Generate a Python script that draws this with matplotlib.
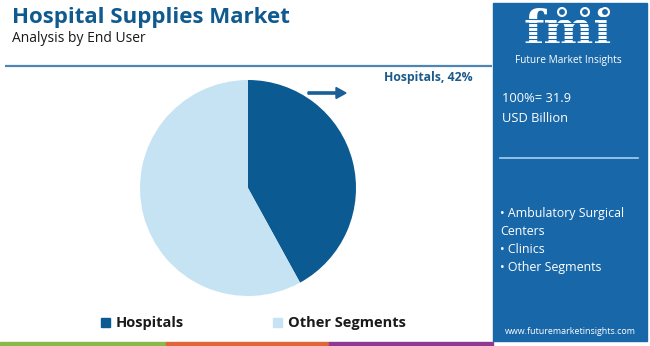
import matplotlib
matplotlib.use('Agg')
import matplotlib.pyplot as plt
from matplotlib.patches import Rectangle, Circle, FancyArrow

# data
segments = ['Hospitals', 'Other Segments']
shares = [42, 58]
seg_colors = ['#0b5a92', '#c6e3f3']
total_label = ['100%= 31.9', 'USD Billion']
other_items = ['\u2022 Ambulatory Surgical', 'Centers', '\u2022 Clinics', '\u2022 Other Segments']

W, H = 650, 346
PANEL = '#1867a9'
TITLE_C = '#0f5a8e'

fig = plt.figure(figsize=(6.5, 3.46), dpi=100)
fig.patch.set_facecolor('white')

# overlay axes in pixel coords (y down)
bg = fig.add_axes([0, 0, 1, 1])
bg.set_xlim(0, W)
bg.set_ylim(H, 0)
bg.axis('off')

# title block
bg.text(12, 17, 'Hospital Supplies Market', fontsize=16, fontweight='bold',
        color=TITLE_C, family='Open Sans', va='center', ha='left')
bg.text(12, 38, 'Analysis by End User', fontsize=10, color='#1a1a1a',
        family='Open Sans', va='center', ha='left')
bg.plot([5, 492], [66, 66], color='#4f85b5', lw=1.6, solid_capstyle='butt')

# right panel
bg.add_patch(Rectangle((493, 3), 154, 338, color=PANEL, zorder=1))
bg.text(568, 43.5, 'fmi', fontsize=34, fontweight='bold', family='DejaVu Serif',
        color='white', ha='center', va='baseline', zorder=2)
for yy in range(19, 44, 4):
    bg.plot([512, 626], [yy, yy], color=PANEL, lw=0.8, zorder=3)
for cx in [562, 585, 605]:
    bg.add_patch(Circle((cx, 12), 4.3, color='white', zorder=4))
    bg.add_patch(Circle((cx, 12), 2.2, color=PANEL, zorder=5))
bg.text(568, 61, 'Future Market Insights', fontsize=7.3, color='white',
        family='Open Sans', ha='center', va='center', zorder=4)

bg.text(502, 99, total_label[0], fontsize=9.3, color='white', family='Open Sans',
        ha='left', va='center', zorder=4)
bg.text(502, 118, total_label[1], fontsize=9.3, color='white', family='Open Sans',
        ha='left', va='center', zorder=4)
bg.plot([500, 638], [158, 158], color='#a9cfee', lw=1.2, zorder=4)

for i, item in enumerate(other_items):
    bg.text(500, 214 + i * 17.7, item, fontsize=8.9, color='white',
            family='Open Sans', ha='left', va='center', zorder=4)

bg.text(570, 331, 'www.futuremarketinsights.com', fontsize=6.4, color='white',
        family='Open Sans', ha='center', va='center', zorder=4)

# bottom stripe
for x0, x1, c in [(0, 166, '#8ab84a'), (166, 329, '#e0663a'), (329, 493, '#8e3a92')]:
    bg.add_patch(Rectangle((x0, 342), x1 - x0, 4, color=c, zorder=2))

# annotation arrow + label
bg.add_patch(FancyArrow(308, 93, 28, 0, width=2.2, head_width=11, head_length=10,
                        length_includes_head=False, color='#1a5f96', zorder=3))
bg.text(384, 78, '%s, %d%%' % (segments[0], shares[0]), fontsize=8.8,
        fontweight='bold', color='#1b5a8b', family='Open Sans',
        ha='left', va='center')

# legend
lx = [101, 273]
for i, name in enumerate(segments):
    bg.add_patch(Rectangle((lx[i], 318), 9, 9, color=seg_colors[i]))
    bg.text(lx[i] + 15, 323, name, fontsize=10.5, fontweight='bold',
            color='#1a1a1a', family='Open Sans', ha='left', va='center')

# pie
ax = fig.add_axes([140 / W, (H - 296) / H, 216 / W, 216 / H])
ax.pie(shares, colors=seg_colors, startangle=90, counterclock=False, radius=1)
ax.set_xlim(-1, 1)
ax.set_ylim(-1, 1)
ax.set_aspect('equal')
ax.axis('off')

fig.savefig('out.png', dpi=100, facecolor='white')
